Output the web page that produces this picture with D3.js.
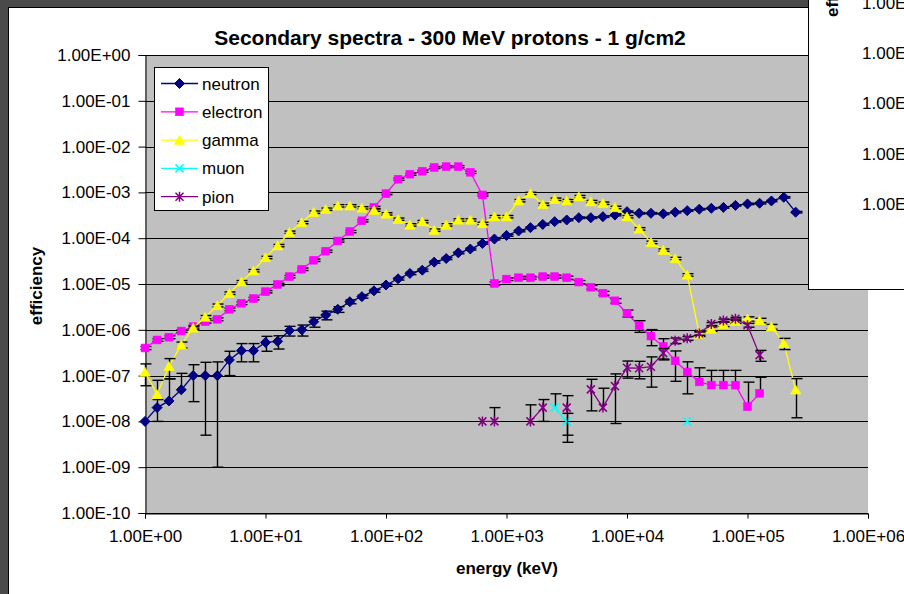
<!DOCTYPE html>
<html><head><meta charset="utf-8">
<script src="https://cdn.jsdelivr.net/npm/d3@7"></script>
<style>body{margin:0;background:#4a4a4a}svg{display:block}text{font-family:"Liberation Sans",Arial,sans-serif}</style>
</head><body><svg id="c" width="904" height="594"></svg>
<script>
const energy=[1,1.26,1.58,2,2.51,3.16,3.98,5.01,6.31,7.94,
10,12.6,15.8,20,25.1,31.6,39.8,50.1,63.1,79.4,
100,126,158,200,251,316,398,501,631,794,
1000,1260,1580,2000,2510,3160,3980,5010,6310,7940,
1e4,1.26e4,1.58e4,2e4,2.51e4,3.16e4,3.98e4,5.01e4,6.31e4,7.94e4,
1e5,1.26e5,1.58e5,2e5,2.51e5];
const neutron=[1.0e-8,2.0e-8,2.8e-8,4.9e-8,1.0e-7,1.0e-7,1.0e-7,2.2e-7,3.5e-7,3.5e-7,
5.3e-7,5.6e-7,9.6e-7,1.0e-6,1.5e-6,2.1e-6,2.8e-6,4.1e-6,5.3e-6,7.1e-6,
9.5e-6,1.3e-5,1.7e-5,2.0e-5,3.0e-5,3.6e-5,4.8e-5,5.8e-5,7.7e-5,9.6e-5,
1.15e-4,1.44e-4,1.7e-4,2.0e-4,2.3e-4,2.5e-4,2.8e-4,2.8e-4,2.95e-4,3.2e-4,
3.8e-4,3.5e-4,3.5e-4,3.4e-4,3.7e-4,4.0e-4,4.3e-4,4.5e-4,4.7e-4,5.2e-4,
5.6e-4,5.8e-4,6.5e-4,7.8e-4,3.7e-4];
const neutronErr=[0,1e-8,5.7e-8,6.3e-8,7.3e-8,9.5e-8,9.9e-8,1.2e-7,1.5e-7,1.5e-7,
1.9e-7,1.8e-7,2.3e-7,2.7e-7,3.6e-7,4.5e-7,4e-7,4e-7,4e-7,5e-7,
6e-7,8e-7,1e-6,1.2e-6,1.6e-6,1.9e-6,2.4e-6,2.8e-6,3.5e-6,4.2e-6,
5e-6,6e-6,7e-6,8e-6,9e-6,1e-5,1.1e-5,1.1e-5,1.1e-5,1.2e-5,
1.4e-5,1.3e-5,1.3e-5,1.3e-5,1.4e-5,1.5e-5,1.6e-5,1.7e-5,1.8e-5,1.9e-5,
2e-5,2.1e-5,2.4e-5,2.9e-5,1.4e-5];
const electron=[4.0e-7,6.0e-7,6.9e-7,9.4e-7,1.17e-6,1.5e-6,1.7e-6,2.8e-6,3.8e-6,4.8e-6,
6.8e-6,9.8e-6,1.45e-5,2.1e-5,3.3e-5,5.2e-5,8.7e-5,1.4e-4,2.4e-4,4.7e-4,
9.4e-4,1.94e-3,2.5e-3,2.9e-3,3.5e-3,3.65e-3,3.65e-3,2.75e-3,8.8e-4,1.03e-5,
1.28e-5,1.37e-5,1.37e-5,1.45e-5,1.45e-5,1.37e-5,1.1e-5,8.5e-6,6.3e-6,4.3e-6,
2.3e-6,1.23e-6,7.3e-7,4.3e-7,2.1e-7,1.2e-7,7.3e-8,6.2e-8,6.2e-8,6.2e-8,
2.1e-8,4.1e-8,null,null,null];
const electronErr=[3e-8,4e-8,5e-8,6e-8,8e-8,1e-7,1.2e-7,1.8e-7,2.5e-7,3e-7,
4e-7,6e-7,9e-7,1.3e-6,2e-6,3e-6,5e-6,8e-6,1.4e-5,2.6e-5,
5e-5,1e-4,1.3e-4,1.5e-4,1.8e-4,1.9e-4,1.9e-4,1.5e-4,5e-5,8e-7,
9e-7,1e-6,1e-6,1.1e-6,1.1e-6,1.1e-6,9e-7,8e-7,6e-7,5e-7,
4e-7,3.5e-7,2.8e-7,2.1e-7,1.35e-7,8e-8,7.5e-8,6.8e-8,6.8e-8,6.8e-8,
5.1e-8,5.1e-8,0,0,0];
const gamma=[1.2e-7,3.9e-8,1.6e-7,4.7e-7,1.1e-6,1.9e-6,3.4e-6,6.3e-6,1.12e-5,1.95e-5,
3.8e-5,6.9e-5,1.35e-4,2.2e-4,3.7e-4,4.3e-4,5.1e-4,5.1e-4,4.6e-4,4.1e-4,
3.4e-4,2.6e-4,1.95e-4,2.3e-4,1.5e-4,1.95e-4,2.5e-4,2.5e-4,2.1e-4,2.95e-4,
2.95e-4,6.6e-4,9.5e-4,5.5e-4,7.1e-4,6.6e-4,8.1e-4,6.3e-4,5.8e-4,4.7e-4,
2.95e-4,1.6e-4,8.1e-5,5.5e-5,3.6e-5,1.58e-5,8.1e-7,1.04e-6,1.32e-6,1.55e-6,
1.73e-6,1.6e-6,1.17e-6,5.1e-7,4.9e-8];
const gammaErr=[6e-8,4e-8,7.5e-8,7e-8,1e-7,1.5e-7,2.5e-7,4e-7,7e-7,1.2e-6,
2.2e-6,4e-6,8e-6,1.3e-5,2.2e-5,2.5e-5,3e-5,3e-5,2.7e-5,2.4e-5,
2e-5,1.5e-5,1.2e-5,1.4e-5,9e-6,1.2e-5,1.5e-5,1.5e-5,1.3e-5,1.8e-5,
1.8e-5,4e-5,5.5e-5,3.3e-5,4.2e-5,4e-5,4.8e-5,3.8e-5,3.5e-5,2.8e-5,
1.8e-5,1e-5,5e-6,3.3e-6,2.2e-6,1e-6,1e-7,1.2e-7,1.5e-7,1.7e-7,
1.9e-7,1.8e-7,1.4e-7,1.4e-7,3.7e-8];
const N=null;
const muon=[N,N,N,N,N,N,N,N,N,N, N,N,N,N,N,N,N,N,N,N, N,N,N,N,N,N,N,N,N,N,
N,N,N,N,2.0e-8,1.0e-8,N,N,N,N, N,N,N,N,N,1.0e-8,N,N,N,N, N,N,N,N,N];
const muonErr=[0,0,0,0,0,0,0,0,0,0, 0,0,0,0,0,0,0,0,0,0, 0,0,0,0,0,0,0,0,0,0,
0,0,0,0,2e-8,5e-9,0,0,0,0, 0,0,0,0,0,0,0,0,0,0, 0,0,0,0,0];
const pion=[N,N,N,N,N,N,N,N,N,N, N,N,N,N,N,N,N,N,N,N, N,N,N,N,N,N,N,N,1e-8,1e-8,
N,N,1e-8,2e-8,N,2e-8,N,5e-8,2e-8,5.9e-8,
1.48e-7,1.45e-7,1.56e-7,3.1e-7,5.8e-7,6.5e-7,8.3e-7,1.34e-6,1.6e-6,1.74e-6,
1.26e-6,2.8e-7,N,N,N];
const pionErr=[0,0,0,0,0,0,0,0,0,0, 0,0,0,0,0,0,0,0,0,0, 0,0,0,0,0,0,0,0,0,1e-8,
0,0,1.3e-8,1e-8,0,1.65e-8,0,3.3e-8,3.3e-8,5e-8,
6e-8,6e-8,1e-7,8e-8,8e-8,6e-8,7e-8,1e-7,1.2e-7,1.3e-7,
1.2e-7,7.5e-8,0,0,0];
const yTicks=[1,1e-1,1e-2,1e-3,1e-4,1e-5,1e-6,1e-7,1e-8,1e-9,1e-10];
const xTicks=[1,1e1,1e2,1e3,1e4,1e5,1e6];
const overlayLabels=["1.00E+00","1.00E-01","1.00E-02","1.00E-03","1.00E-04"];
const fmt=v=>{const e=Math.round(Math.log10(v));return "1.00E"+(e<0?"-":"+")+String(Math.abs(e)).padStart(2,"0");};

const svg=d3.select("#c");
svg.append("rect").attr("width",904).attr("height",594).attr("fill","#4a4a4a");
svg.append("rect").attr("x",8.5).attr("y",7.5).attr("width",1000).attr("height",700).attr("fill","#fff").attr("stroke","#000");

const x=d3.scaleLog().domain([1,1e6]).range([145,868]);
const y=d3.scaleLog().domain([1e-10,1]).range([513,55]);

svg.append("rect").attr("x",145).attr("y",55).attr("width",723).attr("height",458).attr("fill","#c0c0c0");
svg.append("g").selectAll("line").data(yTicks).join("line")
 .attr("x1",145).attr("x2",868).attr("y1",d=>Math.round(y(d))+0.5).attr("y2",d=>Math.round(y(d))+0.5)
 .attr("stroke","#000").attr("stroke-width",1);

const yAxis=svg.append("g").attr("transform","translate(145.5,0)")
 .call(d3.axisLeft(y).tickValues(yTicks).tickFormat(fmt).tickSizeOuter(0).tickSize(7).tickPadding(8));
const xAxis=svg.append("g").attr("transform","translate(0,513.5)")
 .call(d3.axisBottom(x).tickValues(xTicks).tickFormat(fmt).tickSizeOuter(0).tickSize(5).tickPadding(11));
[yAxis,xAxis].forEach(a=>{a.selectAll("text").attr("font-size",17).attr("fill","#000").style("font-family",'"Liberation Sans",Arial');a.select(".domain").attr("stroke","#000");a.selectAll(".tick line").attr("stroke","#000");});

function sym(g,type,color){
 if(type==="diamond") g.append("path").attr("d","M0,-5L5,0L0,5L-5,0Z").attr("fill",color).attr("stroke",color);
 else if(type==="square") g.append("rect").attr("x",-3.9).attr("y",-3.9).attr("width",7.8).attr("height",7.8).attr("fill",color).attr("stroke",color).attr("stroke-width",0.6);
 else if(type==="triangle") g.append("path").attr("d","M0,-4.8L5.2,4.3L-5.2,4.3Z").attr("fill",color).attr("stroke",color).attr("stroke-width",0.6);
 else if(type==="x") g.append("path").attr("d","M-4,-4L4,4M-4,4L4,-4").attr("stroke",color).attr("stroke-width",1.5).attr("fill","none");
 else if(type==="star") g.append("path").attr("d","M-4,-4L4,4M-4,4L4,-4M0,-5L0,5").attr("stroke",color).attr("stroke-width",1.5).attr("fill","none");
}
const series=[
 {name:"neutron",vals:neutron,err:neutronErr,color:"#000080",sym:"diamond"},
 {name:"electron",vals:electron,err:electronErr,color:"#ff00ff",sym:"square"},
 {name:"gamma",vals:gamma,err:gammaErr,color:"#ffff00",sym:"triangle"},
 {name:"muon",vals:muon,err:muonErr,color:"#00ffff",sym:"x"},
 {name:"pion",vals:pion,err:pionErr,color:"#800080",sym:"star"}
];
const line=d3.line().defined(d=>d.v!=null).x(d=>x(d.e)).y(d=>y(d.v));
series.forEach(s=>{
 const pts=energy.map((e,i)=>({e,v:s.vals[i],er:s.err[i]}));
 const g=svg.append("g");
 g.append("path").datum(pts).attr("d",line).attr("fill","none").attr("stroke",s.color).attr("stroke-width",1.3);
 const eb=g.append("g").attr("stroke","#000").attr("stroke-width",1.4);
 pts.filter(d=>d.v!=null&&d.er>0).forEach(d=>{
  const cx=Math.round(x(d.e))+0.5, hi=y(d.v+d.er);
  eb.append("line").attr("x1",cx).attr("x2",cx).attr("y1",hi).attr("y2",y(d.v));
  eb.append("line").attr("x1",cx-5).attr("x2",cx+6).attr("y1",hi).attr("y2",hi);
  if(d.v-d.er>0){const lo=y(d.v-d.er);
   eb.append("line").attr("x1",cx).attr("x2",cx).attr("y1",y(d.v)).attr("y2",lo);
   eb.append("line").attr("x1",cx-5).attr("x2",cx+6).attr("y1",lo).attr("y2",lo);}
 });
 pts.filter(d=>d.v!=null).forEach(d=>{sym(g.append("g").attr("transform",`translate(${x(d.e)},${y(d.v)})`),s.sym,s.color);});
});

// legend
const lg=svg.append("g");
lg.append("rect").attr("x",154.5).attr("y",67.5).attr("width",114).attr("height",143).attr("fill","#fff").attr("stroke","#000");
series.forEach((s,k)=>{
 const cy=83.5+k*28.3;
 lg.append("line").attr("x1",161).attr("x2",198).attr("y1",cy).attr("y2",cy).attr("stroke",s.color).attr("stroke-width",1.3);
 sym(lg.append("g").attr("transform",`translate(179.5,${cy})`),s.sym,s.color);
 lg.append("text").attr("x",202).attr("y",cy+6).attr("font-size",17).text(s.name);
});

svg.append("text").attr("x",450).attr("y",45).attr("text-anchor","middle").attr("font-size",21).attr("font-weight","bold").text("Secondary spectra - 300 MeV protons - 1 g/cm2");
svg.append("text").attr("x",507).attr("y",574).attr("text-anchor","middle").attr("font-size",17).attr("font-weight","bold").text("energy (keV)");
svg.append("text").attr("transform","translate(42,286) rotate(-90)").attr("text-anchor","middle").attr("font-size",17).attr("font-weight","bold").text("efficiency");

// overlapping window in the top-right corner
const ov=svg.append("g");
ov.append("rect").attr("x",808.5).attr("y",-2).attr("width",100).attr("height",291.5).attr("fill","#fff").attr("stroke","#000");
ov.append("text").attr("transform","translate(838,17) rotate(-90)").attr("font-size",17).attr("font-weight","bold").text("efficiency");
overlayLabels.forEach((t,k)=>ov.append("text").attr("x",862).attr("y",3+k*50.2+6).attr("font-size",17).text(t));
</script></body></html>
